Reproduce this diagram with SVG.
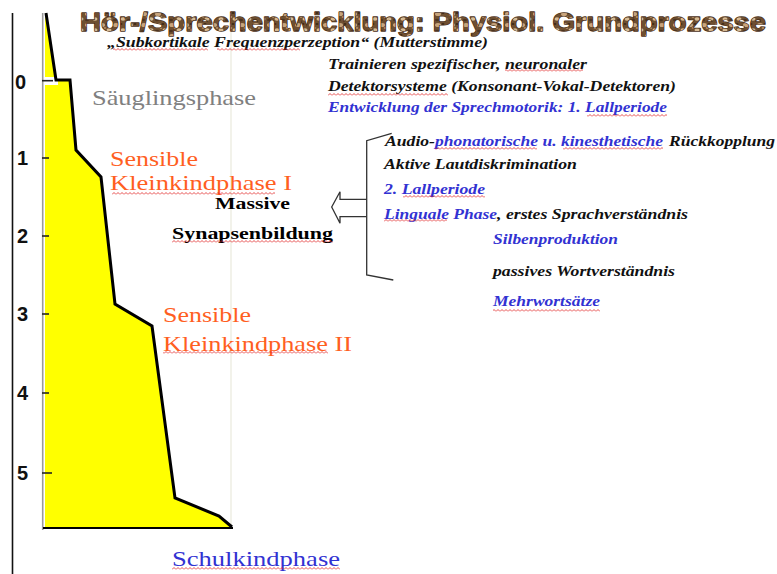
<svg xmlns="http://www.w3.org/2000/svg" width="777" height="574" viewBox="0 0 777 574">
  <style>
    .num { font-family: "Liberation Sans", Arial, sans-serif; font-weight: bold; font-size: 20px; fill: #111; }
    .phase { font-family: "Liberation Serif", "Times New Roman", serif; font-size: 22px; }
    .orange { fill: #ff5f1f; }
    .note { font-family: "Liberation Serif", "Times New Roman", serif; font-style: italic; font-weight: bold; font-size: 15px; }
    .blk { fill: #111; }
    .blu { fill: #3232d2; }
    .syn { font-family: "Liberation Serif", "Times New Roman", serif; font-weight: bold; font-size: 16px; fill: #000; }
    .squig { fill: url(#squiggle); }
  </style>
  <defs>
    <!-- stone-like texture for the heading -->
    <pattern id="stone" patternUnits="userSpaceOnUse" width="14" height="11">
      <rect width="14" height="11" fill="#6e4f31"/>
      <ellipse cx="4" cy="3" rx="3" ry="2" fill="#c9a57c"/>
      <ellipse cx="11" cy="8" rx="2.5" ry="1.8" fill="#d8bb93"/>
      <ellipse cx="9" cy="2" rx="1.5" ry="1" fill="#3f2a18"/>
      <ellipse cx="3" cy="9" rx="2" ry="1.2" fill="#4d3420"/>
      <ellipse cx="7" cy="6" rx="1.3" ry="1" fill="#b08a60"/>
    </pattern>
    <!-- red spell-check squiggle -->
    <pattern id="squiggle" patternUnits="userSpaceOnUse" width="4" height="3">
      <path d="M0 2.5 L2 0.5 L4 2.5" fill="none" stroke="#e02020" stroke-width="0.8"/>
    </pattern>
  </defs>

  <rect width="777" height="574" fill="#ffffff"/>

  <!-- chart -->
  <g id="chart">
    <line x1="231" y1="13" x2="231" y2="528" stroke="#f2f2ea" stroke-width="2"/>
    <line x1="12.5" y1="13" x2="12.5" y2="574" stroke="#111" stroke-width="1.6"/>
    <line x1="42.7" y1="13" x2="42.7" y2="530" stroke="#9a9a9a" stroke-width="1.6"/>
    <polygon points="45,20 46,13 56,80 70,80 76,150 101,177 115,304 152,326 175,498 219,516 232,527 45,527" fill="#ffff00"/>
    <rect x="44" y="77" width="14" height="8" fill="#ffffff"/>
    <polyline points="46,13 56,80 70,80 76,150 101,177 115,304 152,326 175,498 219,516 232,527" fill="none" stroke="#000" stroke-width="3" stroke-linejoin="miter"/>
    <line x1="43" y1="528" x2="233" y2="528" stroke="#000" stroke-width="2"/>
    <g stroke="#222" stroke-width="1.6">
      <line x1="42" y1="80.7" x2="53" y2="80.7"/>
      <line x1="42" y1="158" x2="49" y2="158"/>
      <line x1="42" y1="236" x2="49" y2="236"/>
      <line x1="42" y1="314" x2="49" y2="314"/>
      <line x1="42" y1="393" x2="49" y2="393"/>
      <line x1="42" y1="473" x2="52" y2="473"/>
    </g>
    <text class="num" x="15" y="89">0</text>
    <text class="num" x="17" y="165">1</text>
    <text class="num" x="17" y="243">2</text>
    <text class="num" x="17" y="321">3</text>
    <text class="num" x="17" y="400">4</text>
    <text class="num" x="17" y="480">5</text>
  </g>

  <!-- heading -->
  <g id="title">
    <text x="80" y="31" font-family="'Liberation Sans', Arial, sans-serif" font-weight="bold" font-size="25" fill="url(#stone)" stroke="#4a3018" stroke-width="1.3" stroke-linejoin="round" paint-order="stroke" textLength="686" lengthAdjust="spacingAndGlyphs">Hör-/Sprechentwicklung: Physiol. Grundprozesse</text>
  </g>

  <!-- phase labels -->
  <g id="phase-saeugling">
    <text class="phase" x="92" y="105" fill="#808080" textLength="164" lengthAdjust="spacingAndGlyphs">Säuglingsphase</text>
  </g>
  <g id="phase-klein1">
    <text class="phase orange" x="110" y="166" textLength="88" lengthAdjust="spacingAndGlyphs">Sensible</text>
    <text class="phase orange" x="110" y="190" textLength="182" lengthAdjust="spacingAndGlyphs">Kleinkindphase I</text>
    <rect class="squig" x="112" y="192" width="163" height="3"/>
  </g>
  <g id="phase-klein2">
    <text class="phase orange" x="163" y="322" textLength="88" lengthAdjust="spacingAndGlyphs">Sensible</text>
    <text class="phase orange" x="163" y="351" textLength="189" lengthAdjust="spacingAndGlyphs">Kleinkindphase II</text>
    <rect class="squig" x="163" y="351" width="165" height="3"/>
  </g>
  <g id="phase-schul">
    <text class="phase" x="172" y="566" fill="#3232d2" textLength="168" lengthAdjust="spacingAndGlyphs">Schulkindphase</text>
    <rect class="squig" x="172" y="567" width="168" height="3"/>
  </g>

  <!-- synapse label -->
  <g id="synapsen">
    <text class="syn" x="215" y="209" textLength="75" lengthAdjust="spacingAndGlyphs">Massive</text>
    <text class="syn" x="172" y="239" textLength="161" lengthAdjust="spacingAndGlyphs">Synapsenbildung</text>
    <rect class="squig" x="172" y="240" width="161" height="3"/>
  </g>

  <!-- upper notes -->
  <g id="notes-top">
    <text class="note blk" x="107" y="47" font-size="12.5" textLength="381" lengthAdjust="spacingAndGlyphs">„Subkortikale Frequenzperzeption“ (Mutterstimme)</text>
    <rect class="squig" x="113" y="48" width="95" height="3"/>
    <rect class="squig" x="217" y="48" width="83" height="3"/>
    <text class="note blk" x="328" y="69" font-size="14" textLength="259" lengthAdjust="spacingAndGlyphs">Trainieren spezifischer, neuronaler</text>
    <rect class="squig" x="505" y="69" width="78" height="3"/>
    <text class="note blk" x="328" y="91" font-size="14" textLength="348" lengthAdjust="spacingAndGlyphs">Detektorsysteme (Konsonant-Vokal-Detektoren)</text>
    <rect class="squig" x="328" y="93" width="120" height="3"/>
    <text class="note blu" x="328" y="112" font-size="14" textLength="339" lengthAdjust="spacingAndGlyphs">Entwicklung der Sprechmotorik: 1. Lallperiode</text>
    <rect class="squig" x="587" y="114" width="80" height="3"/>
  </g>

  <!-- connectors: hollow arrow and bracket -->
  <g id="connectors" fill="none" stroke="#333" stroke-width="1.3">
    <path d="M366.7 199.3 L340 199.3 L340 191.7 L331.7 207 L340 223.3 L340 216.7 L366.7 216.7" fill="#fff"/>
    <path d="M391.7 133.3 L366.7 140.7 L366.7 275 L393.3 280"/>
  </g>

  <!-- right notes -->
  <g id="notes-right">
    <text class="note blk" x="385" y="146" textLength="50" lengthAdjust="spacingAndGlyphs">Audio-</text>
    <text class="note blu" x="435" y="146" textLength="228" lengthAdjust="spacingAndGlyphs">phonatorische u. kinesthetische</text>
    <text class="note blk" x="669" y="146" font-style="normal" textLength="106" lengthAdjust="spacingAndGlyphs">Rückkopplung</text>
    <rect class="squig" x="435" y="147" width="102" height="3"/>
    <rect class="squig" x="563" y="147" width="100" height="3"/>

    <text class="note blk" x="384" y="169" textLength="193" lengthAdjust="spacingAndGlyphs">Aktive Lautdiskrimination</text>

    <text class="note blu" x="384" y="194" textLength="101" lengthAdjust="spacingAndGlyphs">2. Lallperiode</text>
    <rect class="squig" x="403" y="195" width="82" height="3"/>

    <text class="note blu" x="384" y="219" textLength="113" lengthAdjust="spacingAndGlyphs">Linguale Phase</text>
    <text class="note blk" x="497" y="219" textLength="191" lengthAdjust="spacingAndGlyphs">, erstes Sprachverständnis</text>
    <rect class="squig" x="384" y="219" width="63" height="3"/>

    <text class="note blu" x="493" y="244" textLength="125" lengthAdjust="spacingAndGlyphs">Silbenproduktion</text>
    <text class="note blk" x="493" y="276" textLength="182" lengthAdjust="spacingAndGlyphs">passives Wortverständnis</text>
    <text class="note blu" x="493" y="306" textLength="107" lengthAdjust="spacingAndGlyphs">Mehrwortsätze</text>
    <rect class="squig" x="493" y="309" width="107" height="3"/>
  </g>
</svg>
